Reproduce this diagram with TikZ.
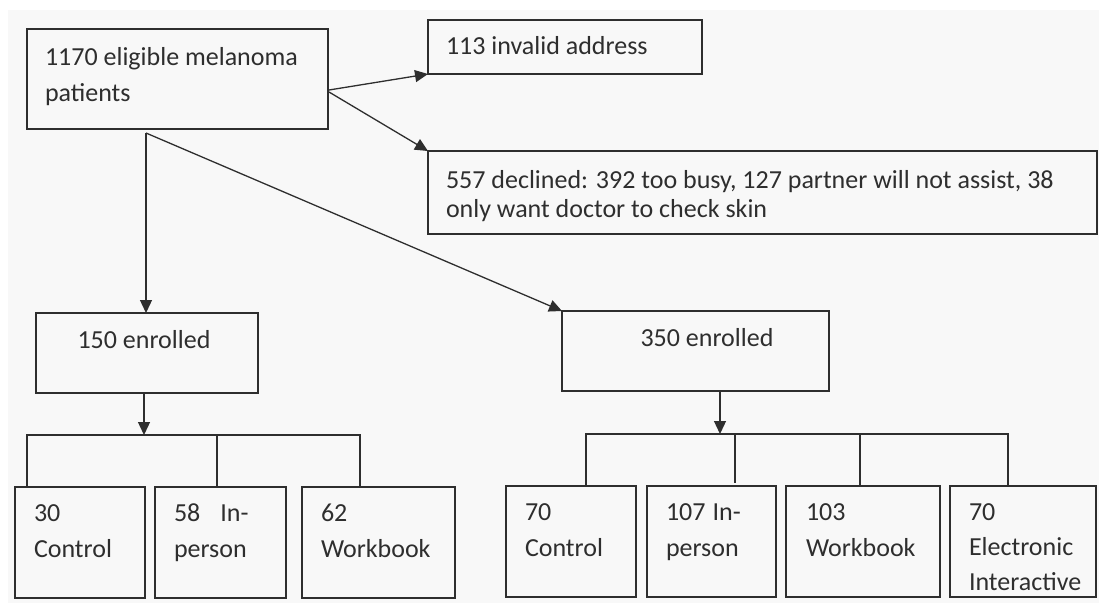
\documentclass[tikz,border=0pt]{standalone}
\usepackage{fontspec}
\setmainfont{Carlito}
\usetikzlibrary{arrows.meta,calc}
\definecolor{ink}{HTML}{2E2E2E}
\definecolor{paper}{HTML}{F8F8F8}
\tikzset{
  box/.style={draw=ink, line width=1.3pt, inner sep=0pt, outer sep=0pt},
  txt/.style={text=ink, inner sep=0pt, outer sep=0pt, align=left, font=\fontsize{26}{36}\selectfont},
  conn/.style={draw=ink, line width=1.3pt},
  arr/.style={conn, -{Triangle[length=13pt,width=12pt]}},
}
\newcommand{\mkbox}[5]{%
  \pgfmathsetmacro{\mkW}{#4-#2}%
  \pgfmathsetmacro{\mkH}{#5-#3}%
  \node[box, anchor=north west, minimum width=\mkW pt, minimum height=\mkH pt] (#1) at (#2,#3) {};}
\begin{document}
\begin{tikzpicture}[x=1pt,y=-1pt]
\useasboundingbox (0,0) rectangle (1099,603);
\fill[white] (0,0) rectangle (1099,603);
\fill[paper] (8,10) rectangle (1099,603);
% boxes
\mkbox{top}{27}{29}{328}{129}
\mkbox{inv}{428}{20}{702}{74}
\mkbox{decl}{428}{151}{1097}{234}
\mkbox{eA}{36}{313}{258}{393}
\mkbox{eB}{562}{311}{829}{391}
\mkbox{cA}{15}{487}{145}{598}
\mkbox{ipA}{155}{487}{286}{598}
\mkbox{wbA}{302}{487}{455}{598}
\mkbox{cB}{506}{486}{636}{597}
\mkbox{ipB}{647}{486}{776}{597}
\mkbox{wbB}{786}{486}{940}{597}
\mkbox{elB}{950}{486}{1096}{597}
% texts (anchor base = baseline of the last line)
\node[txt, anchor=base west] (ttop) at (45,101) {1170 eligible melanoma\\patients};
\node[txt, anchor=base west] (tinv) at (446,54) {113 invalid address};
\node[txt, anchor=base west, font=\fontsize{26}{29}\selectfont] (tdecl) at (446,217) {557 declined: 392 too busy, 127 partner will not assist, 38\\only want doctor to check skin};
\node[txt, anchor=base] (teA) at (144,348) {150 enrolled};
\node[txt, anchor=base] (teB) at (707,346) {350 enrolled};
\node[txt, anchor=base west] (tcA) at (34,557) {30\\Control};
\node[txt, anchor=base west] (tipA) at (174,557) {58\hspace{20pt}In-\\person};
\node[txt, anchor=base west] (twbA) at (321,557) {62\\Workbook};
\node[txt, anchor=base west] (tcB) at (525,556) {70\\Control};
\node[txt, anchor=base west] (tipB) at (666,556) {107\hspace{7pt}In-\\person};
\node[txt, anchor=base west] (twbB) at (806,556) {103\\Workbook};
\node[txt, anchor=base west, font=\fontsize{26}{35}\selectfont] (telB) at (969,590) {70\\Electronic\\Interactive};
% connectors
\coordinate (s1) at (329,90);
\coordinate (s1b) at (329,92);
\coordinate (s2) at (146,133);
\coordinate (barA) at (144,435);
\coordinate (barB) at (720,434);
\draw[arr] (s1) -- (inv.south west);
\draw[arr] (s1b) -- (decl.north west);
\draw[arr] (s2) -- (s2 |- eA.north);
\draw[arr] (s2) -- (eB.north west);
\draw[arr] (eA.south -| barA) -- (barA);
\draw[arr] (eB.south -| barB) -- (barB);
\draw[conn] (cA.north -| 27,0) -- (27,435) -- (360,435) -- (wbA.north -| 360,0);
\draw[conn] (217,435) -- (ipA.north -| 217,0);
\draw[conn] (cB.north -| 586,0) -- (586,434) -- (1008,434) -- (elB.north -| 1008,0);
\draw[conn] (735,434) -- (735,483);
\draw[conn] (860,434) -- (wbB.north -| 860,0);
\end{tikzpicture}
\end{document}
